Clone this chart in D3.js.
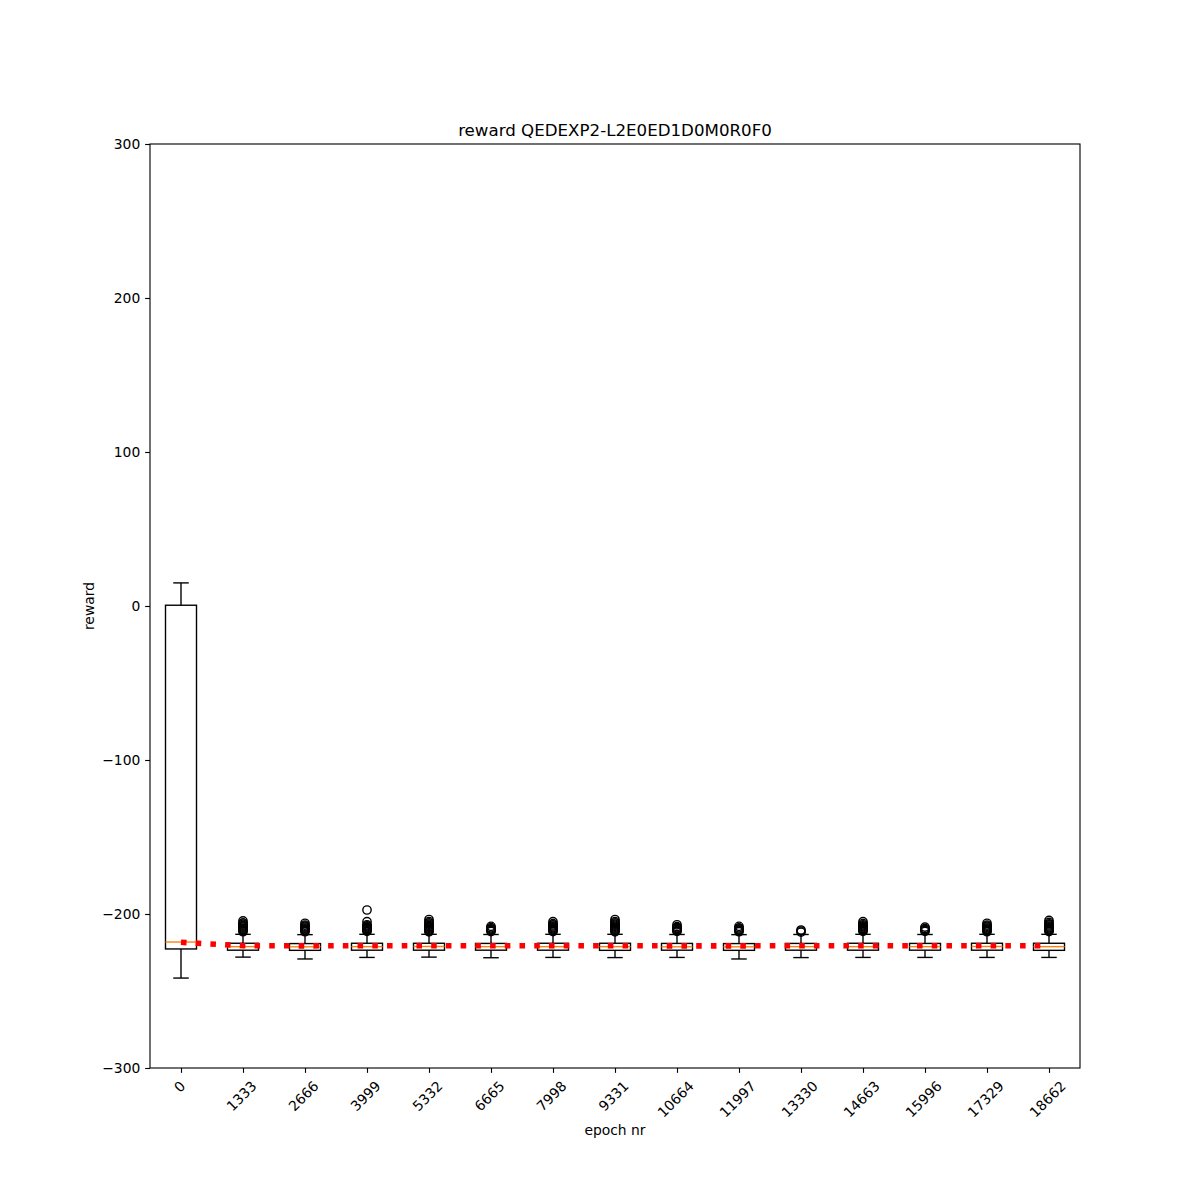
<!DOCTYPE html>
<html>
<head>
<meta charset="utf-8">
<script src="https://cdn.jsdelivr.net/npm/d3@7"></script>
<style>
  html, body { margin: 0; padding: 0; background: #fff; }
  text { font-family: "DejaVu Sans", sans-serif; fill: #000; }
</style>
</head>
<body>
<script>
// ---------- data ----------
const epochs = ["0","1333","2666","3999","5332","6665","7998","9331","10664","11997","13330","14663","15996","17329","18662"];
const whiskerHigh = [15, -213.2, -213.4, -213.2, -213.2, -213.3, -213.2, -213.2, -213.3, -213.4, -213.3, -213.2, -213.3, -213.2, -213.2];
const q3Values    = [0.5, -219.0, -219.2, -219.0, -219.0, -219.1, -219.0, -219.0, -219.1, -219.2, -219.1, -219.0, -219.1, -219.0, -219.0];
const medians     = [-218.2, -221.2, -221.3, -221.2, -221.1, -221.2, -221.2, -221.2, -221.3, -221.3, -221.2, -221.2, -221.2, -221.1, -221.2];
const q1Values    = [-222.7, -223.5, -223.6, -223.5, -223.5, -223.5, -223.5, -223.6, -223.5, -223.6, -223.5, -223.5, -223.5, -223.5, -223.6];
const whiskerLow  = [-241.6, -228.0, -229.2, -228.2, -228.0, -228.4, -228.2, -228.3, -228.2, -229.2, -228.3, -228.2, -228.2, -228.2, -228.2];
const means       = [-218.4, -220.6, -220.7, -220.6, -220.6, -220.6, -220.6, -220.6, -220.7, -220.7, -220.6, -220.6, -220.6, -220.6, -220.6];
const outliers = [
  [],
  [-204.5, -205.8, -206.6, -207.3, -207.9, -208.5, -209.1, -209.7, -210.3, -210.9, -211.5],
  [-206.0, -207.2, -207.9, -208.5, -209.1, -209.7, -210.3, -210.9, -211.5],
  [-197.4, -205.0, -207.0, -207.7, -208.3, -208.9, -209.5, -210.1, -210.7, -211.3],
  [-203.6, -204.9, -205.8, -206.6, -207.4, -208.1, -208.7, -209.3, -209.9, -210.5, -211.1, -211.6],
  [-208.0, -208.9, -209.6, -210.2, -210.8, -211.4],
  [-205.0, -206.3, -207.1, -207.8, -208.4, -209.0, -209.6, -210.2, -210.8, -211.4],
  [-203.6, -204.9, -205.8, -206.6, -207.3, -208.0, -208.6, -209.2, -209.8, -210.4, -211.0, -211.6],
  [-207.0, -208.2, -208.9, -209.5, -210.1, -210.7, -211.3],
  [-208.0, -209.0, -209.7, -210.3, -210.9, -211.5],
  [-210.4, -211.1, -211.8],
  [-205.0, -206.2, -207.0, -207.7, -208.3, -208.9, -209.5, -210.1, -210.7, -211.3],
  [-208.5, -209.4, -210.1, -210.7, -211.3],
  [-206.0, -207.2, -207.9, -208.5, -209.1, -209.7, -210.3, -210.9, -211.5],
  [-204.2, -205.5, -206.4, -207.1, -207.8, -208.4, -209.0, -209.6, -210.2, -210.8, -211.4]
];
const yTicks = [-300, -200, -100, 0, 100, 200, 300];
const titleText = "reward QEDEXP2-L2E0ED1D0M0R0F0";
const xLabel = "epoch nr";
const yLabel = "reward";

(function() {
// ---------- layout ----------
const W = 1200, H = 1200;
const pL = 150, pR = 1080, pT = 144, pB = 1068;
const pt = 100 / 72;

const svg = d3.select("body").append("svg")
  .attr("width", W).attr("height", H)
  .attr("viewBox", `0 0 ${W} ${H}`);
svg.append("rect").attr("width", W).attr("height", H).attr("fill", "#fff");

const x = d3.scaleLinear().domain([0.5, epochs.length + 0.5]).range([pL, pR]);
const y = d3.scaleLinear().domain([-300, 300]).range([pB, pT]);

const boxW = x(1.5) - x(1);
const capW = x(1.25) - x(1);

const data = epochs.map((e, i) => ({
  pos: i + 1, label: e,
  lo: whiskerLow[i], q1: q1Values[i], med: medians[i], q3: q3Values[i], hi: whiskerHigh[i],
  fl: outliers[i], mean: means[i]
}));

const plot = svg.append("g");
const lw = 1 * pt;

const g = plot.selectAll("g.box").data(data).enter().append("g").attr("class", "box");
g.append("line").attr("x1", d => x(d.pos)).attr("x2", d => x(d.pos))
  .attr("y1", d => y(d.q1)).attr("y2", d => y(d.lo)).attr("stroke", "#000").attr("stroke-width", lw);
g.append("line").attr("x1", d => x(d.pos)).attr("x2", d => x(d.pos))
  .attr("y1", d => y(d.q3)).attr("y2", d => y(d.hi)).attr("stroke", "#000").attr("stroke-width", lw);
g.append("line").attr("x1", d => x(d.pos) - capW / 2).attr("x2", d => x(d.pos) + capW / 2)
  .attr("y1", d => y(d.lo)).attr("y2", d => y(d.lo)).attr("stroke", "#000").attr("stroke-width", lw);
g.append("line").attr("x1", d => x(d.pos) - capW / 2).attr("x2", d => x(d.pos) + capW / 2)
  .attr("y1", d => y(d.hi)).attr("y2", d => y(d.hi)).attr("stroke", "#000").attr("stroke-width", lw);
g.append("rect").attr("x", d => x(d.pos) - boxW / 2).attr("width", boxW)
  .attr("y", d => y(d.q3)).attr("height", d => y(d.q1) - y(d.q3))
  .attr("fill", "none").attr("stroke", "#000").attr("stroke-width", lw);
g.append("line").attr("x1", d => x(d.pos) - boxW / 2).attr("x2", d => x(d.pos) + boxW / 2)
  .attr("y1", d => y(d.med)).attr("y2", d => y(d.med)).attr("stroke", "#ff7f0e").attr("stroke-width", lw);
g.each(function(d) {
  d3.select(this).selectAll("circle").data(d.fl).enter().append("circle")
    .attr("cx", x(d.pos)).attr("cy", v => y(v)).attr("r", 3 * pt)
    .attr("fill", "none").attr("stroke", "#000").attr("stroke-width", lw);
});

const meanLine = d3.line().x(d => x(d.pos)).y(d => y(d.mean));
plot.append("path").datum(data).attr("d", meanLine)
  .attr("fill", "none").attr("stroke", "#ff0000")
  .attr("stroke-width", 4 * pt)
  .attr("stroke-dasharray", `${4 * pt} ${6.6 * pt}`);

svg.append("rect").attr("x", pL).attr("y", pT).attr("width", pR - pL).attr("height", pB - pT)
  .attr("fill", "none").attr("stroke", "#000").attr("stroke-width", 0.8 * pt);

const tickLen = 3.5 * pt, pad = 3.5 * pt;
const fmt = v => (v < 0 ? "\u2212" + Math.abs(v) : String(v));
const yAxis = d3.axisLeft(y).tickValues(yTicks).tickFormat(fmt).tickSize(tickLen).tickPadding(pad);
const ya = svg.append("g").attr("transform", `translate(${pL},0)`).call(yAxis);
ya.select(".domain").remove();
ya.selectAll("line").attr("stroke", "#000").attr("stroke-width", 0.8 * pt);
ya.selectAll("text").attr("font-size", 10 * pt).attr("font-family", "DejaVu Sans").attr("fill", "#000");

const xAxis = d3.axisBottom(x).tickValues(data.map(d => d.pos)).tickFormat((v, i) => epochs[i])
  .tickSize(tickLen).tickPadding(pad);
const xa = svg.append("g").attr("transform", `translate(0,${pB})`).call(xAxis);
xa.select(".domain").remove();
xa.selectAll("line").attr("stroke", "#000").attr("stroke-width", 0.8 * pt);
const fs = 10 * pt;
xa.selectAll("text").attr("font-size", fs).attr("font-family", "DejaVu Sans").attr("fill", "#000")
  .attr("dy", null).attr("y", null)
  .attr("text-anchor", "middle").attr("dominant-baseline", "central")
  .each(function() {
    const t = d3.select(this);
    const w = this.getComputedTextLength();
    const h = fs * 1.17;
    const s = Math.SQRT1_2;
    const rh = (w + h) * s;
    const cy = tickLen + pad + rh / 2;
    t.attr("transform", `translate(-2,${cy}) rotate(-45)`);
  });

svg.append("text").attr("x", (pL + pR) / 2).attr("y", pT - 6 * pt - 2)
  .attr("text-anchor", "middle").attr("font-size", 12 * pt)
  .attr("dominant-baseline", "auto").attr("dy", "0.12em").text(titleText);
svg.append("text").attr("x", (pL + pR) / 2).attr("y", 1135)
  .attr("text-anchor", "middle").attr("font-size", 10 * pt).text(xLabel);
svg.append("text").attr("transform", `translate(94,${(pT + pB) / 2}) rotate(-90)`)
  .attr("text-anchor", "middle").attr("font-size", 10 * pt).text(yLabel);
})();
</script>
</body>
</html>
